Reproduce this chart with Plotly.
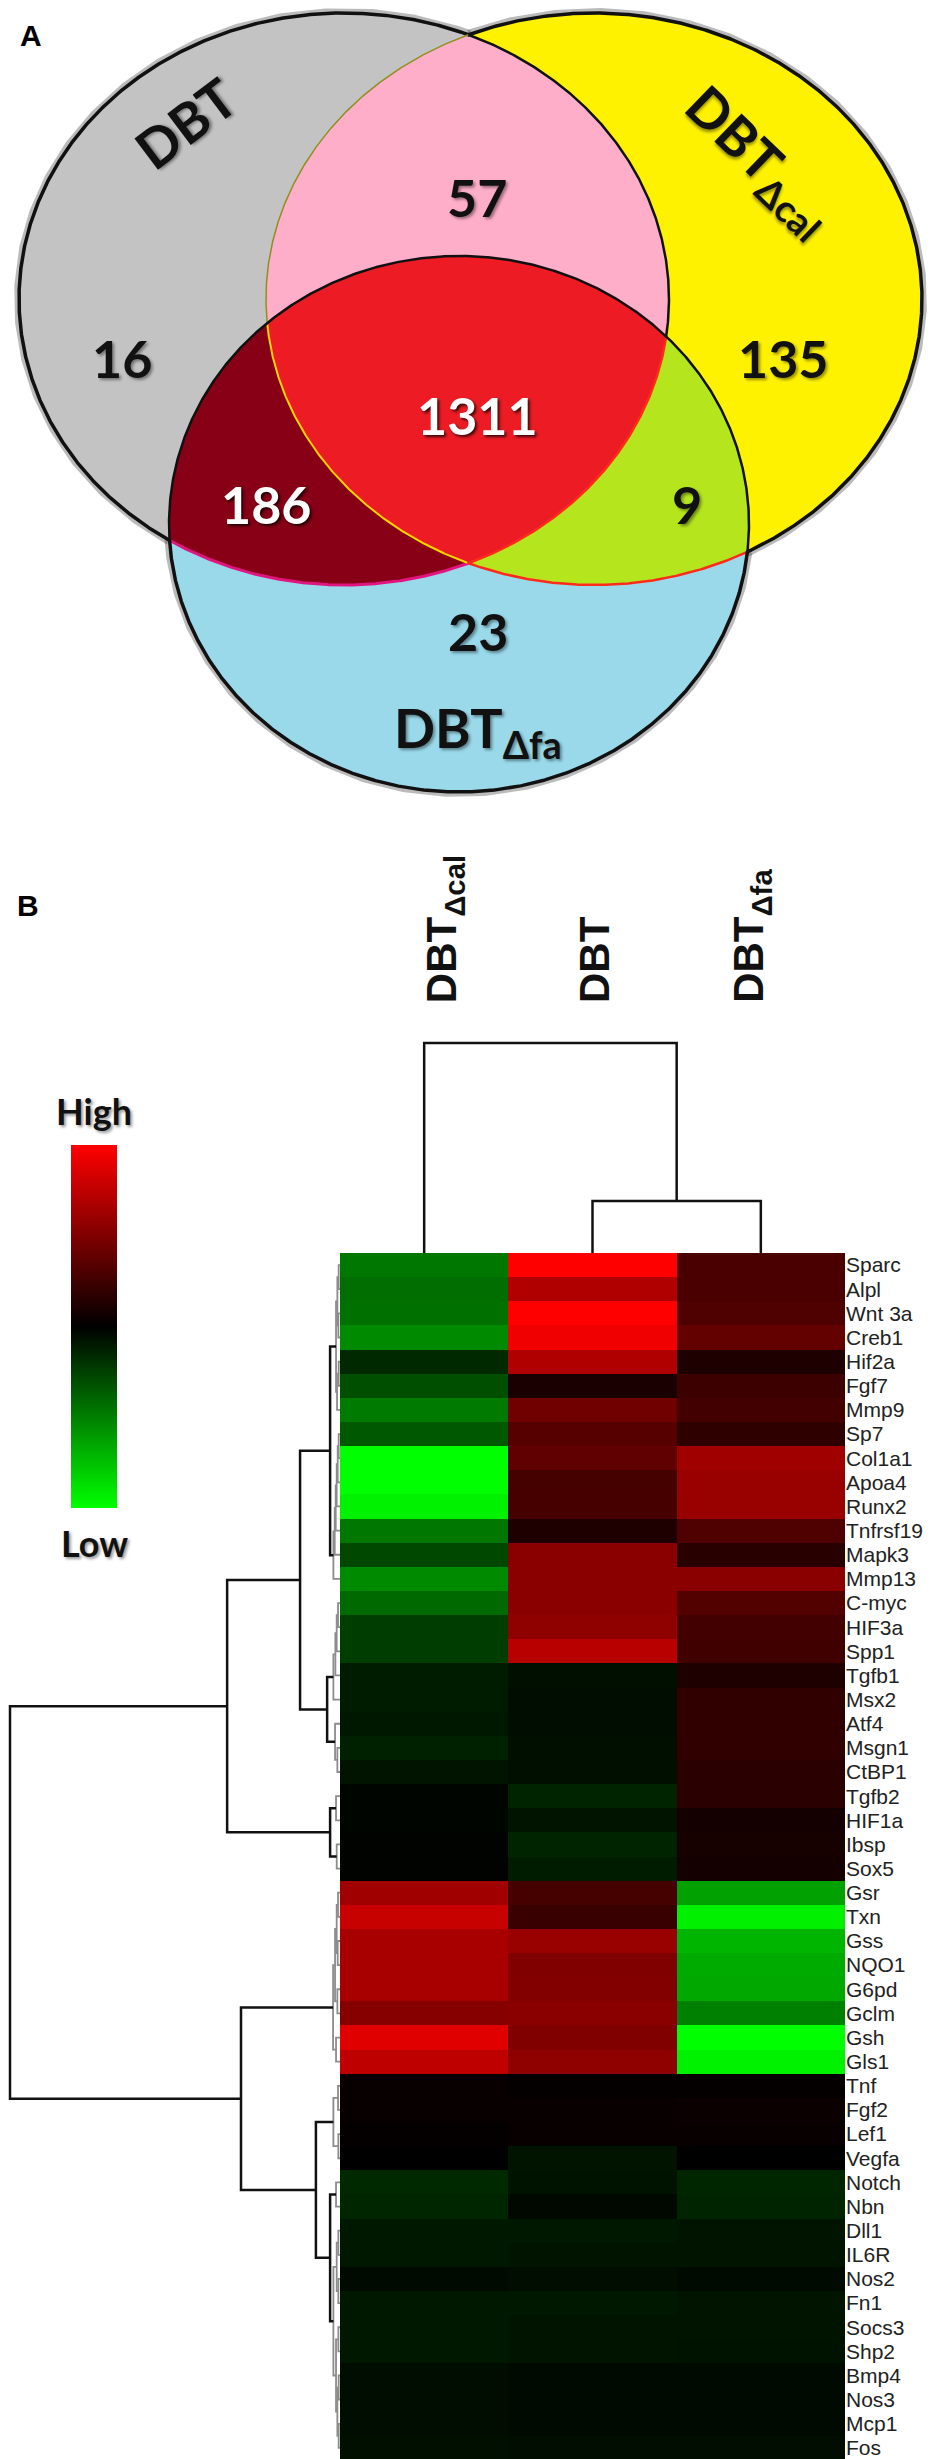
import numpy as np
import plotly.graph_objects as go

W, H = 943, 2459

# ---------------- panel A : Venn counts ----------------
venn_sets = ["DBT", "DBT<sub>Δcal</sub>", "DBT<sub>Δfa</sub>"]
venn_regions = ["G", "GY", "Y", "GF", "GYF", "YF", "F"]   # G=DBT, Y=DBT-dcal, F=DBT-dfa
venn_counts = [16, 57, 135, 186, 1311, 9, 23]

# ---------------- panel B : heatmap ----------------
samples = ["DBT<sub>Δcal</sub>", "DBT", "DBT<sub>Δfa</sub>"]
genes = ["Sparc", "Alpl", "Wnt 3a", "Creb1", "Hif2a", "Fgf7", "Mmp9", "Sp7",
         "Col1a1", "Apoa4", "Runx2", "Tnfrsf19", "Mapk3", "Mmp13", "C-myc", "HIF3a",
         "Spp1", "Tgfb1", "Msx2", "Atf4", "Msgn1", "CtBP1", "Tgfb2", "HIF1a",
         "Ibsp", "Sox5", "Gsr", "Txn", "Gss", "NQO1", "G6pd", "Gclm",
         "Gsh", "Gls1", "Tnf", "Fgf2", "Lef1", "Vegfa", "Notch", "Nbn",
         "Dll1", "IL6R", "Nos2", "Fn1", "Socs3", "Shp2", "Bmp4", "Nos3",
         "Mcp1", "Fos"]
expr_dcal = [-0.47, -0.43, -0.44, -0.54, -0.16, -0.31, -0.48, -0.35,
             -1.0, -1.0, -0.95, -0.47, -0.28, -0.54, -0.41, -0.24, -0.24,
             -0.11, -0.11, -0.09, -0.13, -0.08, -0.02, -0.02, -0.01, -0.01,
             0.63, 0.78, 0.66, 0.66, 0.66, 0.53, 0.88, 0.75,
             0.03, 0.03, 0.02, 0.0, -0.16, -0.15, -0.09, -0.09, -0.04, -0.09,
             -0.09, -0.09, -0.05, -0.05, -0.05, -0.06]
expr_dbt = [1.0, 0.69, 1.0, 0.94, 0.69, 0.1, 0.44, 0.34,
            0.38, 0.27, 0.28, 0.12, 0.54, 0.54, 0.54, 0.56, 0.72,
            -0.06, -0.05, -0.05, -0.06, -0.06, -0.14, -0.08, -0.14, -0.11,
            0.27, 0.22, 0.6, 0.5, 0.51, 0.54, 0.5, 0.56,
            0.02, 0.03, 0.03, -0.08, -0.07, -0.03, -0.09, -0.08, -0.05, -0.09,
            -0.08, -0.08, -0.04, -0.04, -0.04, -0.05]
expr_dfa = [0.29, 0.29, 0.31, 0.39, 0.12, 0.24, 0.26, 0.18,
            0.63, 0.6, 0.6, 0.31, 0.16, 0.54, 0.32, 0.26, 0.25,
            0.12, 0.19, 0.19, 0.19, 0.17, 0.17, 0.08, 0.09, 0.08,
            -0.63, -0.94, -0.71, -0.67, -0.66, -0.5, -1.0, -0.95,
            0.02, 0.04, 0.03, 0.0, -0.15, -0.14, -0.08, -0.08, -0.04, -0.08,
            -0.08, -0.07, -0.04, -0.04, -0.04, -0.05]

# clustering trees: [height, left, right], leaves are column / row indices
col_tree = [1.0, 0, [0.248, 1, 2]]
row_tree = [1.0,
            [0.342,
             [0.121,
              [0.03,
               [0.012, [0.008, [0.004, 0, 1], [0.005, 2, 3]], [0.009, [0.004, 4, 5], 6]],
               [0.02, [0.016, [0.013, [0.01, [0.007, [0.004, 7, 8], 9], 10], 11], 12], 13]],
              [0.039,
               [0.02, [0.014, [0.01, [0.006, 14, 15], 16], 17], 18],
               [0.015, 19, [0.008, 20, 21]]]],
             [0.03, [0.012, 22, 23], [0.01, 24, 25]]],
            [0.30,
             [0.021, [0.015, [0.01, [0.006, 26, 27], [0.007, 28, 29]], [0.008, 30, 31]],
              [0.012, 32, 33]],
             [0.073,
              [0.02, [0.006, 34, 35], [0.005, 36, 37]],
              [0.03, [0.012, 38, 39],
               [0.02, [0.01, [0.005, 40, 41], [0.005, 42, 43]],
                [0.012, [0.005, 44, 45], [0.008, [0.004, 46, 47], [0.004, 48, 49]]]]]]]]

# ---------------- layout constants (pixels) ----------------
ELL = {"G": (336, 291, 325, 286), "Y": (586, 291, 328, 286), "F": (451, 516, 290, 268)}
FILL = {"G": "#c3c3c3", "Y": "#fff200", "F": "#99d9ea", "GY": "#ffaec9",
        "GF": "#880015", "YF": "#b5e61d", "GYF": "#ed1c24"}
COUNT_POS = {"G": (114, 350), "GY": (469, 189), "Y": (775, 350), "GF": (258, 496),
             "GYF": (469, 407), "YF": (679, 496), "F": (470, 623)}
SET_POS = [(177, 115, -37), (751, 153, 44), (470, 723, 0)]
EDGE = {"outer": ("#111111", 3.5), "black": ("#111111", 2.5), "red": ("#ff2a1a", 2.5),
        "magenta": ("#e0157f", 3), "olive": ("#8f8f20", 1.5), "gold": ("#ffd400", 2)}

HM_L, HM_R, HM_T, HM_B = 332, 837, 1245, 2452
CD_TOP = 1035


def ell_xy(k, n=1440):
    cx, cy, rx, ry = ELL[k]
    t = np.linspace(0, 2 * np.pi, n, endpoint=False)
    return cx + rx * np.cos(t), cy + ry * np.sin(t)


def inside(k, x, y):
    cx, cy, rx, ry = ELL[k]
    return ((x - cx) / rx) ** 2 + ((y - cy) / ry) ** 2 <= 1 + 1e-9


def region(keys):
    # intersection of convex ellipses -> boundary points sorted by angle
    xs, ys = [], []
    for k in keys:
        x, y = ell_xy(k)
        m = np.ones_like(x, dtype=bool)
        for o in keys:
            if o != k:
                m &= inside(o, x, y)
        xs.append(x[m])
        ys.append(y[m])
    x, y = np.concatenate(xs), np.concatenate(ys)
    o = np.argsort(np.arctan2(y - y.mean(), x - x.mean()))
    return np.append(x[o], x[o][0]), np.append(y[o], y[o][0])


def edge_kind(k, x, y):
    g, yy, f = inside("G", x, y), inside("Y", x, y), inside("F", x, y)
    if k == "G":
        if not f:
            return "black" if yy else "outer"
        return "red" if yy else "magenta"
    if k == "Y":
        if not g and not f:
            return "outer"
        if g and not f:
            return "olive"
        return "gold" if g else "red"
    return "outer" if (not g and not yy) else "black"


def edge_runs(k):
    x, y = ell_xy(k)
    kinds = [edge_kind(k, a, b) for a, b in zip(x, y)]
    n = len(kinds)
    start = next((i for i in range(n) if kinds[i] != kinds[i - 1]), 0)
    idx = [(start + i) % n for i in range(n)]
    runs, cur = [], [idx[0]]
    for i in idx[1:]:
        if kinds[i] == kinds[cur[0]]:
            cur.append(i)
        else:
            cur.append(i)
            runs.append((kinds[cur[0]], cur))
            cur = [i]
    cur.append(idx[0])
    runs.append((kinds[cur[0]], cur))
    return [(kd, x[c], y[c]) for kd, c in runs]


def dendro(node):
    if isinstance(node, int):
        return float(node), 0.0, []
    h, l, r = node
    pl, hl, sl = dendro(l)
    pr, hr, sr = dendro(r)
    seg = ([pl, pl, pr, pr], [hl, h, h, hr], h)
    return (pl + pr) / 2, h, sl + sr + [seg]


fig = go.Figure()

# ---------- Venn ----------
runs = {k: edge_runs(k) for k in ["G", "Y", "F"]}
for k in runs:
    for kd, x, y in runs[k]:
        if kd == "outer":
            fig.add_trace(go.Scatter(x=x, y=y, mode="lines", xaxis="x", yaxis="y",
                                     line=dict(color="rgba(60,60,60,0.35)", width=10),
                                     hoverinfo="skip", showlegend=False))

for keys in ["G", "Y", "F", "GY", "GF", "YF", "GYF"]:
    x, y = region(list(keys))
    fig.add_trace(go.Scatter(x=x, y=y, mode="lines", fill="toself", xaxis="x", yaxis="y",
                             fillcolor=FILL[keys], line=dict(width=0, color=FILL[keys]),
                             hoverinfo="skip", showlegend=False))

for k in runs:
    for kd, x, y in runs[k]:
        c, w = EDGE[kd]
        fig.add_trace(go.Scatter(x=x, y=y, mode="lines", xaxis="x", yaxis="y",
                                 line=dict(color=c, width=w), hoverinfo="skip", showlegend=False))

ann = []
for key, cnt in zip(venn_regions, venn_counts):
    px, py = COUNT_POS[key]
    white = key in ("GF", "GYF")
    ann.append(dict(x=px, y=py, xref="x", yref="y", text="<b>%d</b>" % cnt, showarrow=False,
                    font=dict(family="Lato", size=52, color="white" if white else "#111",
                              shadow="2px 2px 3px rgba(0,0,0,0.75)" if white
                              else "2px 2px 3px rgba(0,0,0,0.4)")))
for name, (px, py, ang) in zip(venn_sets, SET_POS):
    ann.append(dict(x=px, y=py, xref="x", yref="y", text="<b>%s</b>" % name, showarrow=False,
                    textangle=ang,
                    font=dict(family="Lato", size=54, color="#111",
                              shadow="2px 2px 3px rgba(0,0,0,0.4)")))

# ---------- heatmap ----------
z = [list(v) for v in zip(expr_dcal, expr_dbt, expr_dfa)]
fig.add_trace(go.Heatmap(
    z=z, x=[0, 1, 2], y=list(range(len(genes))), xaxis="x2", yaxis="y2",
    zmin=-1, zmax=1,
    colorscale=[[0, "#00ff00"], [0.5, "#000000"], [1, "#ff0000"]],
    colorbar=dict(x=63 / W, xanchor="left", y=1 - 1137 / H, yanchor="top",
                  len=363, lenmode="pixels", thickness=46, thicknessmode="pixels",
                  showticklabels=False, ticks="", outlinewidth=0, xpad=0, ypad=0),
    hoverinfo="skip"))

# column dendrogram
_, _, csegs = dendro(col_tree)
cx, cy = [], []
for xs, ys, h in csegs:
    cx += xs + [None]
    cy += ys + [None]
fig.add_trace(go.Scatter(x=cx, y=cy, mode="lines", xaxis="x3", yaxis="y3",
                         line=dict(color="#111", width=2.5), hoverinfo="skip", showlegend=False))

# row dendrogram
_, _, rsegs = dendro(row_tree)
for big, col, wid in [(False, "#8c8c8c", 1.8), (True, "#111", 2.5)]:
    rx_, ry_ = [], []
    for ys, xs, h in rsegs:
        if (h >= 0.025) == big:
            rx_ += xs + [None]
            ry_ += ys + [None]
    fig.add_trace(go.Scatter(x=rx_, y=ry_, mode="lines", xaxis="x4", yaxis="y4",
                             line=dict(color=col, width=wid), hoverinfo="skip", showlegend=False))

# column labels
for i, (name, shift) in enumerate(zip(samples, [20, 2, -10])):
    ann.append(dict(x=i, xref="x2", y=997, yref="y", text="<b>%s</b>" % name, showarrow=False,
                    textangle=-90, xanchor="center", yanchor="bottom", xshift=shift,
                    font=dict(family="Liberation Sans", size=42, color="#111")))

ann += [
    dict(x=23, y=27, xref="x", yref="y", text="<b>A</b>", showarrow=False,
         font=dict(family="Liberation Sans", size=30, color="#000")),
    dict(x=20, y=897, xref="x", yref="y", text="<b>B</b>", showarrow=False,
         font=dict(family="Liberation Sans", size=30, color="#000")),
    dict(x=86, y=1103, xref="x", yref="y", text="<b>High</b>", showarrow=False,
         font=dict(family="Lato", size=36, color="#111", shadow="2px 2px 3px rgba(0,0,0,0.4)")),
    dict(x=86, y=1535, xref="x", yref="y", text="<b>Low</b>", showarrow=False,
         font=dict(family="Lato", size=36, color="#111", shadow="2px 2px 3px rgba(0,0,0,0.4)")),
]

hidden = dict(visible=False, showgrid=False, zeroline=False, fixedrange=True)
cd_ext = 1.05
hm_dom = [1 - HM_B / H, 1 - HM_T / H]
fig.update_layout(
    width=W, height=H, margin=dict(l=0, r=0, t=0, b=0),
    paper_bgcolor="white", plot_bgcolor="rgba(0,0,0,0)",
    showlegend=False, annotations=ann,
    xaxis=dict(hidden, domain=[0, 1], range=[0, W]),
    yaxis=dict(hidden, domain=[0, 1], range=[H, 0]),
    xaxis2=dict(hidden, domain=[HM_L / W, HM_R / W], range=[-0.5, 2.5], anchor="y2"),
    yaxis2=dict(domain=hm_dom, range=[len(genes) - 0.5, -0.5], anchor="x2",
                side="right", tickvals=list(range(len(genes))), ticktext=genes,
                ticks="", showgrid=False, zeroline=False, showline=False, fixedrange=True,
                ticklabeloverflow="allow",
                tickfont=dict(family="Liberation Sans", size=21, color="#222")),
    xaxis3=dict(hidden, domain=[HM_L / W, HM_R / W], range=[-0.5, 2.5], anchor="y3"),
    yaxis3=dict(hidden, domain=[1 - HM_T / H, 1 - (HM_T - (HM_T - CD_TOP) * cd_ext) / H],
                range=[0, cd_ext], anchor="x3"),
    xaxis4=dict(hidden, domain=[0, HM_L / W], range=[HM_L / (HM_L - 2), 0], anchor="y4"),
    yaxis4=dict(hidden, domain=hm_dom, range=[len(genes) - 0.5, -0.5], anchor="x4"),
)

fig.write_html("out.html")
